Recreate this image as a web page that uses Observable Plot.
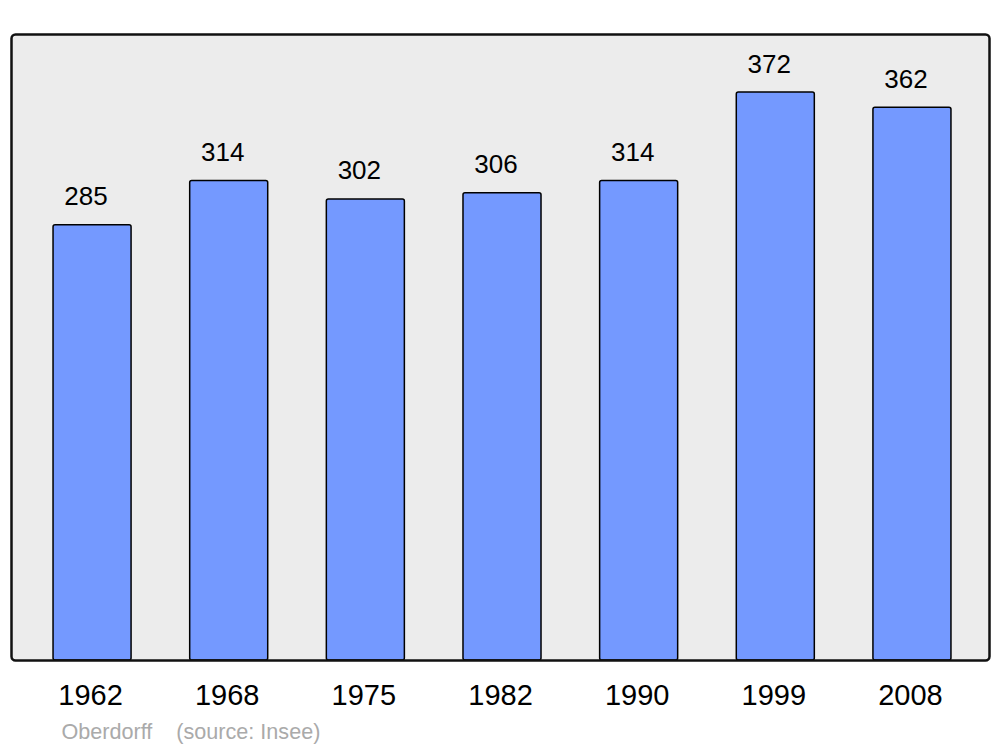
<!DOCTYPE html>
<html>
<head>
<meta charset="utf-8">
<script src="https://cdn.jsdelivr.net/npm/d3@7"></script>
<script src="https://cdn.jsdelivr.net/npm/@observablehq/plot@0.6"></script>
<style>
  html, body { margin: 0; padding: 0; background: #fff; }
  #chart svg { display: block; }
</style>
</head>
<body>
<div id="chart"></div>
<script>
const years = ["1962", "1968", "1975", "1982", "1990", "1999", "2008"];
const population = [285, 314, 302, 306, 314, 372, 362];
const captionText = ["Oberdorff    (source: Insee)"];

const data = years.map((y, i) => ({year: y, value: population[i]}));
const font = "'Liberation Sans', Arial, sans-serif";

const chart = Plot.plot({
  width: 1000,
  height: 747,
  marginLeft: 11,
  marginRight: 11,
  marginTop: 34,
  marginBottom: 87,
  style: {fontFamily: font, background: "#fff"},
  x: {domain: years, paddingInner: 0.429, paddingOuter: 0.293, align: 0.525, round: false, label: null},
  y: {domain: [0, 410], axis: null},
  marks: [
    Plot.frame({fill: "#ececec", stroke: null, rx: 4}),
    Plot.barY(data, {x: "year", y: "value", fill: "#7499ff", stroke: "#000", strokeWidth: 1.5, rx: 2}),
    Plot.text(data, {x: "year", y: "value", text: d => String(d.value), lineAnchor: "bottom", dy: -20, dx: -6.5, fontSize: 26, fill: "#000"}),
    Plot.frame({fill: "none", stroke: "#111", strokeWidth: 2.5, rx: 4}),
    Plot.axisX({tickSize: 0, tickPadding: 24, dx: -2, fontSize: 29, color: "#000", label: null}),
    Plot.text(captionText, {frameAnchor: "bottom-left", dx: 50, dy: 78, lineAnchor: "bottom", textAnchor: "start", text: d => d, fontSize: 21.6, fill: "#aaaaaa", style: "white-space: pre"})
  ]
});
document.getElementById("chart").appendChild(chart);
</script>
</body>
</html>
